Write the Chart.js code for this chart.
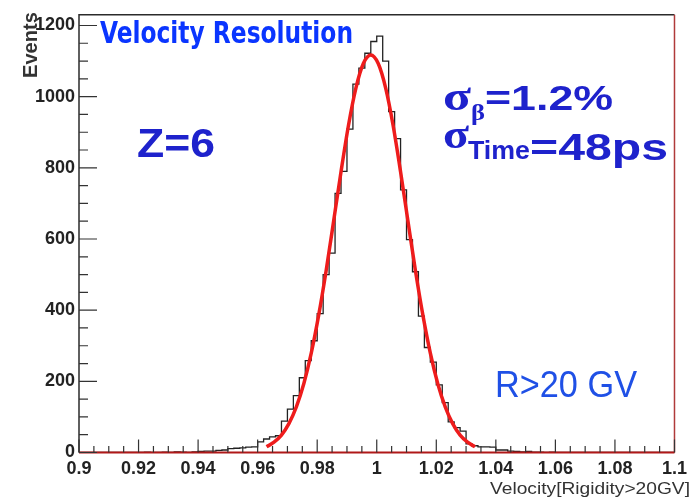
<!DOCTYPE html>
<html>
<head>
<meta charset="utf-8">
<title>Velocity Resolution</title>
<script src="https://cdn.jsdelivr.net/npm/chart.js@4.4.1/dist/chart.umd.min.js"></script>
<style>
  html, body { margin: 0; padding: 0; background: #fff; }
  #wrap { width: 693px; height: 499px; }
</style>
</head>
<body>
<div id="wrap"><canvas id="chart" width="693" height="499"></canvas></div>
<script>
// ------------------------------------------------------------
// data
// ------------------------------------------------------------
const BIN_LO = 0.9;
const BIN_HI = 1.1;
const BIN_W = 0.002;

// events per bin, 100 bins from 0.900 to 1.100
const COUNTS = [
  0, 0, 0, 0, 0, 0, 0, 0, 0, 0,
  0, 1, 0, 0, 1, 0, 2, 1, 0, 2,
  3, 4, 4, 6, 7, 11, 12, 13, 15, 16,
  30, 38, 44, 47, 88, 122, 160, 210, 258, 314,
  390, 500, 560, 728, 790, 909, 1035, 1080, 1122, 1155,
  1170, 1100, 958, 882, 738, 598, 508, 383, 295, 254,
  190, 140, 86, 70, 60, 24, 19, 16, 16, 15,
  7, 7, 4, 3, 2, 3, 1, 1, 0, 1,
  0, 0, 0, 0, 0, 0, 0, 0, 0, 0,
  0, 0, 0, 0, 0, 0, 0, 0, 0, 0
];

// gaussian fit curve (red), sampled every 0.0025 from 0.963
const FIT_X0 = 0.963;
const FIT_DX = 0.0025;
const FIT_Y = [
  16, 29, 49, 81, 128, 193, 279, 386, 511, 649, 789, 919, 1024, 1093, 1117,
  1093, 1024, 919, 789, 649, 511, 386, 279, 193, 128, 81, 49, 29, 16
];

// tick labels
const X_TICKS = [0.9, 0.92, 0.94, 0.96, 0.98, 1, 1.02, 1.04, 1.06, 1.08, 1.1];
const Y_TICKS = [0, 200, 400, 600, 800, 1000, 1200];
const Y_MAX = 1230;

// ------------------------------------------------------------
// build points
// ------------------------------------------------------------
const histPts = [];
COUNTS.forEach((c, i) => {
  histPts.push({ x: BIN_LO + i * BIN_W, y: c });
  histPts.push({ x: BIN_LO + (i + 1) * BIN_W, y: c });
});
const fitPts = FIT_Y.map((v, i) => ({ x: FIT_X0 + i * FIT_DX, y: v }));

const NARROW = "'Liberation Sans Narrow', 'DejaVu Sans Condensed', 'Liberation Sans', sans-serif";
const SANS = "'Liberation Sans', Arial, sans-serif";
const SERIF = "'Liberation Serif', 'DejaVu Serif', serif";

// text squeezed / stretched to the width seen in the picture
function fitText(ctx, text, x, y, font, color, width, rot) {
  ctx.save();
  ctx.font = font;
  ctx.fillStyle = color;
  ctx.textBaseline = 'alphabetic';
  ctx.textAlign = 'left';
  const w = ctx.measureText(text).width;
  ctx.translate(x, y);
  if (rot) ctx.rotate(rot);
  ctx.scale(width / w, 1);
  ctx.fillText(text, 0, 0);
  ctx.restore();
}

// ROOT style frame, inward ticks and the labels on the pad
const rootFrame = {
  id: 'rootFrame',
  afterDatasetsDraw(chart) {
    const { ctx, chartArea: a, scales } = chart;
    const xs = scales.x, ys = scales.y;
    ctx.save();

    ctx.lineWidth = 1.5;
    ctx.strokeStyle = '#2b2b2b';
    ctx.beginPath();
    ctx.moveTo(a.left, a.bottom);
    ctx.lineTo(a.left, a.top);
    ctx.lineTo(a.right, a.top);
    ctx.stroke();

    ctx.strokeStyle = '#b03a3a';
    ctx.beginPath();
    ctx.moveTo(a.right, a.top);
    ctx.lineTo(a.right, a.bottom);
    ctx.stroke();

    ctx.lineWidth = 2;
    ctx.strokeStyle = '#b01818';
    ctx.beginPath();
    ctx.moveTo(a.left, a.bottom);
    ctx.lineTo(a.right, a.bottom);
    ctx.stroke();

    // ticks: majors 200 / 0.02, minors 50 / 0.005
    ctx.lineWidth = 1.2;
    ctx.strokeStyle = '#333';
    ctx.beginPath();
    for (let k = 0; k <= 24; k++) {
      const py = ys.getPixelForValue(k * 50);
      const len = k % 4 === 0 ? 18 : 9;
      ctx.moveTo(a.left, py);
      ctx.lineTo(a.left + len, py);
    }
    for (let k = 0; k <= 40; k++) {
      const px = xs.getPixelForValue(BIN_LO + k * 0.005);
      const len = k % 4 === 0 ? 13 : 6.5;
      ctx.moveTo(px, a.bottom);
      ctx.lineTo(px, a.bottom - len);
    }
    ctx.stroke();
    ctx.restore();

    // labels
    const blue = '#1e22cc';
    fitText(ctx, 'Velocity Resolution', 100, 43, 'bold 31px ' + NARROW, '#0a35ff', 253);
    fitText(ctx, 'Z=6', 137, 157, 'bold 40px ' + SANS, blue, 78);
    fitText(ctx, 'σ', 443, 110, 'bold 42px ' + SERIF, blue, 28);
    fitText(ctx, 'β', 471, 120, 'bold 24px ' + SERIF, blue, 14);
    fitText(ctx, '=1.2%', 485, 110, 'bold 35px ' + SANS, blue, 128);
    fitText(ctx, 'σ', 443, 148, 'bold 42px ' + SERIF, blue, 26);
    fitText(ctx, 'Time', 468, 159, 'bold 25px ' + SANS, blue, 62);
    fitText(ctx, '=48ps', 530, 160, 'bold 37px ' + SANS, blue, 138);
    fitText(ctx, 'R>20 GV', 495, 397, '37px ' + SANS, '#1f50e6', 142);
    fitText(ctx, 'Velocity[Rigidity>20GV]', 490, 494, '17px ' + SANS, '#333', 200);
    fitText(ctx, 'Events', 37, 78, 'bold 20px ' + SANS, '#333', 66, -Math.PI / 2);
  }
};

const tickFont = { family: SANS, size: 18, weight: 'bold' };

new Chart(document.getElementById('chart'), {
  type: 'line',
  data: {
    datasets: [
      {
        label: 'fit',
        data: fitPts,
        borderColor: '#ee1c1c',
        borderWidth: 3.5,
        pointRadius: 0,
        cubicInterpolationMode: 'monotone',
        fill: false,
        order: 0
      },
      {
        label: 'Events',
        data: histPts,
        borderColor: '#222',
        borderWidth: 1.3,
        pointRadius: 0,
        tension: 0,
        fill: false,
        order: 1
      }
    ]
  },
  options: {
    responsive: false,
    animation: false,
    layout: { padding: { top: 12, right: 10, left: 0, bottom: 0 } },
    plugins: {
      legend: { display: false },
      tooltip: { enabled: false }
    },
    scales: {
      x: {
        type: 'linear',
        min: BIN_LO,
        max: BIN_HI,
        afterFit: s => { s.height = 46.5; },
        afterBuildTicks: s => { s.ticks = X_TICKS.map(v => ({ value: v })); },
        grid: { drawOnChartArea: false, drawTicks: false },
        border: { display: false },
        ticks: {
          autoSkip: false,
          maxRotation: 0,
          padding: 6,
          color: '#222',
          font: tickFont,
          callback: v => String(v)
        }
      },
      y: {
        min: 0,
        max: Y_MAX,
        afterFit: s => { s.width = 79; },
        afterBuildTicks: s => { s.ticks = Y_TICKS.map(v => ({ value: v })); },
        grid: { drawOnChartArea: false, drawTicks: false },
        border: { display: false },
        ticks: {
          padding: 4,
          color: '#222',
          font: tickFont,
          callback: v => String(v)
        }
      }
    }
  },
  plugins: [rootFrame]
});
</script>
</body>
</html>
